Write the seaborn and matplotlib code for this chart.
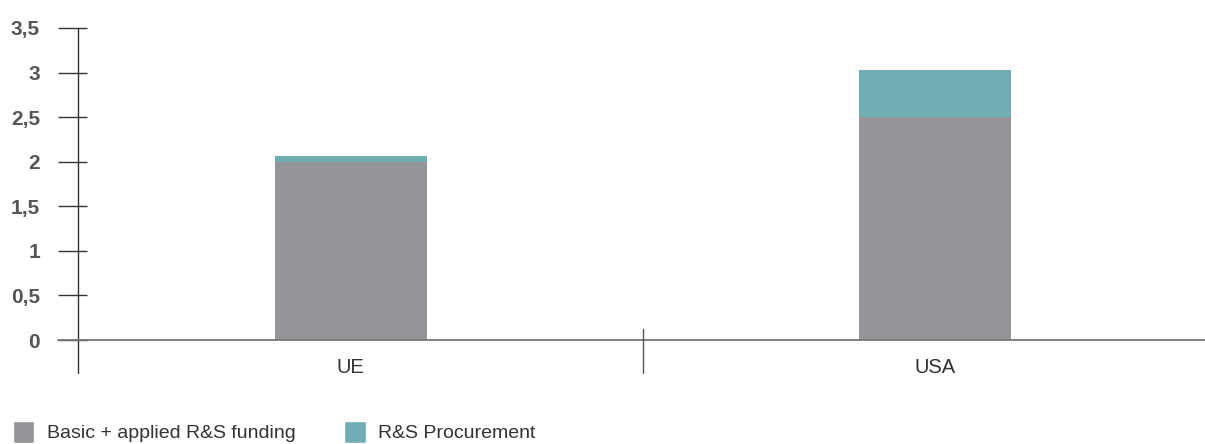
import pandas as pd
import seaborn as sns
import matplotlib.pyplot as plt
from matplotlib.patches import Patch

# Data
regions = ['UE', 'USA']
basic_funding = [2.0, 2.5]
procurement = [0.06, 0.53]
y_ticks = [0, 0.5, 1, 1.5, 2, 2.5, 3, 3.5]
y_tick_labels = ['0', '0,5', '1', '1,5', '2', '2,5', '3', '3,5']
legend_labels = ['Basic + applied R&S funding', 'R&S Procurement']

gray = '#949599'
teal = '#70aeb4'

df = pd.DataFrame({'region': regions, 'basic': basic_funding, 'proc': procurement})
df['total'] = df['basic'] + df['proc']

sns.set_style('white')
plt.rcParams['font.family'] = ['Liberation Sans', 'DejaVu Sans']

fig = plt.figure(figsize=(12.05, 4.44), dpi=100)
ax = fig.add_axes([78 / 1205, 1 - 340 / 444, 1 - 78 / 1205, 312 / 444])

# stacked bars: total in teal, basic part drawn on top in gray
sns.barplot(data=df, x='region', y='total', color=teal, width=0.26,
            saturation=1, linewidth=0, ax=ax)
sns.barplot(data=df, x='region', y='basic', color=gray, width=0.26,
            saturation=1, linewidth=0, ax=ax)

ax.set_xlim(-0.467, 1.463)
ax.set_ylim(0, 3.5)
ax.set_xlabel('')
ax.set_ylabel('')
for s in ax.spines.values():
    s.set_visible(False)

# axis lines, drawn by hand so they reach past the plot area
ax.plot([0, 0], [-0.106, 1], transform=ax.transAxes, color='#333333',
        lw=1, clip_on=False)
ax.plot([-0.0177, 1], [0, 0], transform=ax.transAxes, color='#777777',
        lw=1.3, clip_on=False)
ax.plot([0.5, 0.5], [-0.106, 0.035], transform=ax.get_xaxis_transform(),
        color='#555555', lw=1, clip_on=False)

# ticks: long part outside, short part inside the axis
ax.set_yticks(y_ticks)
ax.set_yticks(y_ticks, minor=True)
ax.yaxis.remove_overlapping_locs = False
ax.set_yticklabels(y_tick_labels, fontsize=15, fontweight='bold', color='#555555')
ax.tick_params(axis='y', which='major', direction='out', length=14.4, width=1,
               color='#333333', pad=13, left=True)
ax.tick_params(axis='y', which='minor', direction='in', length=6.5, width=1,
               color='#333333', left=True)
ax.tick_params(axis='x', length=0, pad=13, labelsize=14.5, labelcolor='#333333')

handles = [Patch(facecolor=gray), Patch(facecolor=teal)]
fig.legend(handles, legend_labels, loc='lower left', bbox_to_anchor=(13 / 1205, 1 / 444),
           ncol=2, frameon=False, fontsize=14, handlelength=1.1, handleheight=1.4,
           handletextpad=0.65, columnspacing=2.5, borderpad=0, borderaxespad=0,
           labelcolor='#333333')

fig.savefig('out.png', dpi=100)
